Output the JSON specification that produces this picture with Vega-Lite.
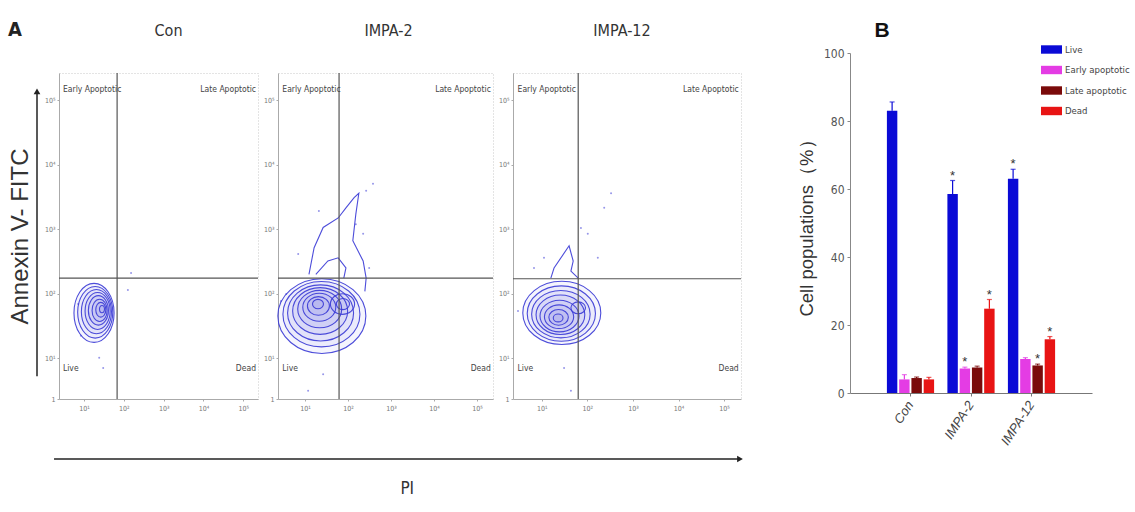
{
  "$schema": "https://vega.github.io/schema/vega-lite/v6.json",
  "background": "white",
  "padding": {"left": 8, "top": 20, "right": 5, "bottom": 5},
  "config": {
    "font": "Liberation Sans Narrow, DejaVu Sans Condensed, sans-serif",
    "view": {"stroke": null},
    "axis": {"grid": false},
    "title": {"font": "Liberation Sans Narrow, DejaVu Sans Condensed, sans-serif", "fontWeight": "normal", "fontSize": 16, "color": "#333"}
  },
  "datasets": {
    "arrows": [
      {"axis": "annexin", "pos": 1, "start": 0.36, "end": 4.86},
      {"axis": "PI", "pos": 0.9, "start": 0.027, "end": 1.0, "label": "PI", "label_x": 0.528, "label_y": 0.15}
    ],
    "gates": [
      {"panel": "Con", "pi_gate": 1.46, "annexin_gate": 1.91},
      {"panel": "IMPA-2", "pi_gate": 1.42, "annexin_gate": 1.91},
      {"panel": "IMPA-12", "pi_gate": 1.43, "annexin_gate": 1.9}
    ],
    "quadrants": [
      {"label": "Early Apoptotic", "pi": 0.1, "annexin": 4.9, "side": "left"},
      {"label": "Late Apoptotic", "pi": 4.95, "annexin": 4.9, "side": "right"},
      {"label": "Live", "pi": 0.1, "annexin": 0.49, "side": "left"},
      {"label": "Dead", "pi": 4.95, "annexin": 0.49, "side": "right"}
    ],
    "rings": [
      {"panel": "Con", "level": 8, "pi": 0.88, "annexin": 1.36},
      {"panel": "Con", "level": 7, "pi": 0.91, "annexin": 1.37},
      {"panel": "Con", "level": 6, "pi": 0.94, "annexin": 1.38},
      {"panel": "Con", "level": 5, "pi": 0.97, "annexin": 1.39},
      {"panel": "Con", "level": 4, "pi": 0.99, "annexin": 1.4},
      {"panel": "Con", "level": 3, "pi": 1.02, "annexin": 1.4},
      {"panel": "Con", "level": 2, "pi": 1.05, "annexin": 1.41},
      {"panel": "Con", "level": 1, "pi": 1.08, "annexin": 1.42},
      {"panel": "IMPA-2", "level": 8, "pi": 1.02, "annexin": 1.31},
      {"panel": "IMPA-2", "level": 7, "pi": 1.01, "annexin": 1.34},
      {"panel": "IMPA-2", "level": 6, "pi": 0.99, "annexin": 1.36},
      {"panel": "IMPA-2", "level": 5, "pi": 0.98, "annexin": 1.39},
      {"panel": "IMPA-2", "level": 4, "pi": 0.97, "annexin": 1.42},
      {"panel": "IMPA-2", "level": 3, "pi": 0.96, "annexin": 1.45},
      {"panel": "IMPA-2", "level": 2, "pi": 0.94, "annexin": 1.47},
      {"panel": "IMPA-2", "level": 1, "pi": 0.93, "annexin": 1.5},
      {"panel": "IMPA-2", "level": 2.2, "pi": 1.5, "annexin": 1.5},
      {"panel": "IMPA-2", "level": 1.2, "pi": 1.51, "annexin": 1.5},
      {"panel": "IMPA-12", "level": 8, "pi": 1.07, "annexin": 1.36},
      {"panel": "IMPA-12", "level": 7, "pi": 1.06, "annexin": 1.35},
      {"panel": "IMPA-12", "level": 6, "pi": 1.05, "annexin": 1.34},
      {"panel": "IMPA-12", "level": 5, "pi": 1.04, "annexin": 1.33},
      {"panel": "IMPA-12", "level": 4, "pi": 1.02, "annexin": 1.31},
      {"panel": "IMPA-12", "level": 3, "pi": 1.01, "annexin": 1.3},
      {"panel": "IMPA-12", "level": 2, "pi": 1.0, "annexin": 1.29},
      {"panel": "IMPA-12", "level": 1, "pi": 0.99, "annexin": 1.28},
      {"panel": "IMPA-12", "level": 1.5, "pi": 1.43, "annexin": 1.44}
    ],
    "tails": [
      {"panel": "IMPA-2", "contour": "outer", "order": 1, "pi": 0.72, "annexin": 1.97},
      {"panel": "IMPA-2", "contour": "outer", "order": 2, "pi": 0.84, "annexin": 2.39},
      {"panel": "IMPA-2", "contour": "outer", "order": 3, "pi": 1.05, "annexin": 2.71},
      {"panel": "IMPA-2", "contour": "outer", "order": 4, "pi": 1.4, "annexin": 2.86},
      {"panel": "IMPA-2", "contour": "outer", "order": 5, "pi": 1.58, "annexin": 3.02},
      {"panel": "IMPA-2", "contour": "outer", "order": 6, "pi": 1.77, "annexin": 3.18},
      {"panel": "IMPA-2", "contour": "outer", "order": 7, "pi": 1.88, "annexin": 3.25},
      {"panel": "IMPA-2", "contour": "outer", "order": 8, "pi": 1.81, "annexin": 2.92},
      {"panel": "IMPA-2", "contour": "outer", "order": 9, "pi": 1.74, "annexin": 2.5},
      {"panel": "IMPA-2", "contour": "outer", "order": 10, "pi": 1.98, "annexin": 2.18},
      {"panel": "IMPA-2", "contour": "outer", "order": 11, "pi": 2.05, "annexin": 1.91},
      {"panel": "IMPA-2", "contour": "outer", "order": 12, "pi": 2.02, "annexin": 1.7},
      {"panel": "IMPA-2", "contour": "inner", "order": 1, "pi": 0.88, "annexin": 1.97},
      {"panel": "IMPA-2", "contour": "inner", "order": 2, "pi": 1.16, "annexin": 2.18},
      {"panel": "IMPA-2", "contour": "inner", "order": 3, "pi": 1.4, "annexin": 2.23},
      {"panel": "IMPA-2", "contour": "inner", "order": 4, "pi": 1.58, "annexin": 2.07},
      {"panel": "IMPA-2", "contour": "inner", "order": 5, "pi": 1.53, "annexin": 1.91},
      {"panel": "IMPA-12", "contour": "outer", "order": 1, "pi": 0.83, "annexin": 1.91},
      {"panel": "IMPA-12", "contour": "outer", "order": 2, "pi": 0.9, "annexin": 2.07},
      {"panel": "IMPA-12", "contour": "outer", "order": 3, "pi": 1.23, "annexin": 2.42},
      {"panel": "IMPA-12", "contour": "outer", "order": 4, "pi": 1.32, "annexin": 2.18},
      {"panel": "IMPA-12", "contour": "outer", "order": 5, "pi": 1.27, "annexin": 2.02},
      {"panel": "IMPA-12", "contour": "outer", "order": 6, "pi": 1.43, "annexin": 1.91}
    ],
    "events": [
      {"panel": "Con", "pi": 0.55, "annexin": 1.0},
      {"panel": "Con", "pi": 1.01, "annexin": 0.65},
      {"panel": "Con", "pi": 1.11, "annexin": 0.49},
      {"panel": "Con", "pi": 1.73, "annexin": 1.72},
      {"panel": "Con", "pi": 1.81, "annexin": 1.99},
      {"panel": "Con", "pi": 0.48, "annexin": 1.5},
      {"panel": "IMPA-2", "pi": 2.21, "annexin": 3.4},
      {"panel": "IMPA-2", "pi": 2.05, "annexin": 3.29},
      {"panel": "IMPA-2", "pi": 0.95, "annexin": 2.97},
      {"panel": "IMPA-2", "pi": 0.47, "annexin": 2.29},
      {"panel": "IMPA-2", "pi": 1.81, "annexin": 2.76},
      {"panel": "IMPA-2", "pi": 1.98, "annexin": 2.61},
      {"panel": "IMPA-2", "pi": 0.19, "annexin": 1.66},
      {"panel": "IMPA-2", "pi": 0.07, "annexin": 1.55},
      {"panel": "IMPA-2", "pi": 1.05, "annexin": 0.39},
      {"panel": "IMPA-2", "pi": 0.7, "annexin": 0.13},
      {"panel": "IMPA-2", "pi": 2.12, "annexin": 2.07},
      {"panel": "IMPA-12", "pi": 2.15, "annexin": 3.25},
      {"panel": "IMPA-12", "pi": 2.0, "annexin": 3.02},
      {"panel": "IMPA-12", "pi": 1.49, "annexin": 2.7},
      {"panel": "IMPA-12", "pi": 1.64, "annexin": 2.61},
      {"panel": "IMPA-12", "pi": 1.86, "annexin": 2.23},
      {"panel": "IMPA-12", "pi": 0.68, "annexin": 2.23},
      {"panel": "IMPA-12", "pi": 0.46, "annexin": 2.07},
      {"panel": "IMPA-12", "pi": 1.12, "annexin": 0.49},
      {"panel": "IMPA-12", "pi": 1.27, "annexin": 0.13},
      {"panel": "IMPA-12", "pi": 0.11, "annexin": 1.39}
    ],
    "cells": [
      {"treatment": "Con", "population": "Live", "mean": 83.0, "upper": 85.6, "sig": false},
      {"treatment": "Con", "population": "Early apoptotic", "mean": 4.0, "upper": 5.4, "sig": false},
      {"treatment": "Con", "population": "Late apoptotic", "mean": 4.4, "upper": 4.7, "sig": false},
      {"treatment": "Con", "population": "Dead", "mean": 4.0, "upper": 4.6, "sig": false},
      {"treatment": "IMPA-2", "population": "Live", "mean": 58.5, "upper": 62.5, "sig": true},
      {"treatment": "IMPA-2", "population": "Early apoptotic", "mean": 7.2, "upper": 7.6, "sig": true},
      {"treatment": "IMPA-2", "population": "Late apoptotic", "mean": 7.5, "upper": 7.9, "sig": false},
      {"treatment": "IMPA-2", "population": "Dead", "mean": 24.8, "upper": 27.5, "sig": true},
      {"treatment": "IMPA-12", "population": "Live", "mean": 63.0, "upper": 65.8, "sig": true},
      {"treatment": "IMPA-12", "population": "Early apoptotic", "mean": 10.0, "upper": 10.4, "sig": false},
      {"treatment": "IMPA-12", "population": "Late apoptotic", "mean": 8.1, "upper": 8.5, "sig": true},
      {"treatment": "IMPA-12", "population": "Dead", "mean": 15.8, "upper": 16.6, "sig": true}
    ]
  },
  "hconcat": [
    {
      "vconcat": [
        {
          "hconcat": [
            {
              "width": 2,
              "height": 326,
              "title": {"text": "A", "anchor": "start", "dx": 0, "fontSize": 20, "fontWeight": "bold", "offset": 33, "color": "#222"},
              "data": {"name": "arrows"},
              "transform": [{"filter": "datum.axis === 'annexin'"}],
              "layer": [
                {
                  "mark": {"type": "rule", "color": "#222", "strokeWidth": 1.5},
                  "encoding": {
                    "x": {"field": "pos", "type": "quantitative", "scale": {"domain": [0, 1]}, "axis": null},
                    "y": {"field": "start", "type": "quantitative", "scale": {"domain": [0, 5.15], "nice": false, "zero": false},
                      "axis": {"title": "Annexin V- FITC", "labels": false, "ticks": false, "domain": false, "titleFont": "Liberation Sans", "titleFontSize": 24, "titleFontWeight": "normal", "titleColor": "#333", "titlePadding": 3}},
                    "y2": {"field": "end"}
                  }
                },
                {
                  "mark": {"type": "point", "shape": "triangle-up", "filled": true, "color": "#222", "size": 45, "opacity": 1},
                  "encoding": {
                    "x": {"field": "pos", "type": "quantitative"},
                    "y": {"field": "end", "type": "quantitative"}
                  }
                }
              ]
            },
            {
              "width": 199,
              "height": 326,
              "title": {"text": "Con", "offset": 33, "dx": 10},
              "view": {"stroke": "#c8c8c8", "strokeDash": [1, 2]},
              "layer": [
                {
                  "data": {"name": "events"},
                  "transform": [{"filter": "datum.panel === 'Con'"}],
                  "mark": {"type": "point", "filled": true, "size": 4, "color": "#6a6ae0", "opacity": 0.7},
                  "encoding": {
                    "x": {"field": "pi", "type": "quantitative", "scale": {"domain": [0, 5], "nice": false, "zero": false},
                      "axis": {"title": null, "values": [0.63, 1.63, 2.63, 3.63, 4.63], "labelExpr": "datum.value < 1.3 ? '10¹' : datum.value < 2.3 ? '10²' : datum.value < 3.3 ? '10³' : datum.value < 4.3 ? '10⁴' : '10⁵'", "labelFontSize": 7, "labelColor": "#777", "domainColor": "#aaa", "tickColor": "#aaa", "tickSize": 2, "labelPadding": 3}},
                    "y": {"field": "annexin", "type": "quantitative", "scale": {"domain": [0, 5.15], "nice": false, "zero": false},
                      "axis": {"title": null, "values": [0, 0.64, 1.66, 2.68, 3.7, 4.72], "labelExpr": "datum.value < 0.3 ? '1' : datum.value < 1.3 ? '10¹' : datum.value < 2.3 ? '10²' : datum.value < 3.3 ? '10³' : datum.value < 4.3 ? '10⁴' : '10⁵'", "labelFontSize": 7, "labelColor": "#777", "domainColor": "#aaa", "tickColor": "#aaa", "tickSize": 2, "labelPadding": 2}}
                  }
                },
                {
                  "data": {"name": "rings"},
                  "transform": [{"filter": "datum.panel === 'Con'"}],
                  "mark": {"type": "point", "shape": "M-0.68,0A0.68,1,0,1,1,0.68,0A0.68,1,0,1,1,-0.68,0Z", "filled": false, "color": "#3a3ad6", "strokeWidth": 1.1, "opacity": 0.9, "fill": "#3a3ad6", "fillOpacity": 0.05},
                  "encoding": {
                    "x": {"field": "pi", "type": "quantitative"},
                    "y": {"field": "annexin", "type": "quantitative"},
                    "size": {"field": "level", "type": "quantitative", "scale": {"type": "pow", "exponent": 2, "domain": [0, 8], "range": [0, 3481]}, "legend": null}
                  }
                },
                {
                  "data": {"name": "gates"},
                  "transform": [{"filter": "datum.panel === 'Con'"}],
                  "mark": {"type": "rule", "color": "#555", "strokeWidth": 1.2},
                  "encoding": {"x": {"field": "pi_gate", "type": "quantitative"}}
                },
                {
                  "data": {"name": "gates"},
                  "transform": [{"filter": "datum.panel === 'Con'"}],
                  "mark": {"type": "rule", "color": "#555", "strokeWidth": 1.2},
                  "encoding": {"y": {"field": "annexin_gate", "type": "quantitative"}}
                },
                {
                  "data": {"name": "quadrants"},
                  "transform": [{"filter": "datum.side === 'left'"}],
                  "mark": {"type": "text", "align": "left", "baseline": "middle", "fontSize": 8.5, "color": "#444"},
                  "encoding": {"x": {"field": "pi", "type": "quantitative"}, "y": {"field": "annexin", "type": "quantitative"}, "text": {"field": "label"}}
                },
                {
                  "data": {"name": "quadrants"},
                  "transform": [{"filter": "datum.side === 'right'"}],
                  "mark": {"type": "text", "align": "right", "baseline": "middle", "fontSize": 8.5, "color": "#444"},
                  "encoding": {"x": {"field": "pi", "type": "quantitative"}, "y": {"field": "annexin", "type": "quantitative"}, "text": {"field": "label"}}
                }
              ]
            },
            {
              "width": 215,
              "height": 326,
              "title": {"text": "IMPA-2", "offset": 33, "dx": 3},
              "view": {"stroke": "#c8c8c8", "strokeDash": [1, 2]},
              "layer": [
                {
                  "data": {"name": "events"},
                  "transform": [{"filter": "datum.panel === 'IMPA-2'"}],
                  "mark": {"type": "point", "filled": true, "size": 4, "color": "#6a6ae0", "opacity": 0.7},
                  "encoding": {
                    "x": {"field": "pi", "type": "quantitative", "scale": {"domain": [0, 5], "nice": false, "zero": false},
                      "axis": {"title": null, "values": [0.63, 1.63, 2.63, 3.63, 4.63], "labelExpr": "datum.value < 1.3 ? '10¹' : datum.value < 2.3 ? '10²' : datum.value < 3.3 ? '10³' : datum.value < 4.3 ? '10⁴' : '10⁵'", "labelFontSize": 7, "labelColor": "#777", "domainColor": "#aaa", "tickColor": "#aaa", "tickSize": 2, "labelPadding": 3}},
                    "y": {"field": "annexin", "type": "quantitative", "scale": {"domain": [0, 5.15], "nice": false, "zero": false},
                      "axis": {"title": null, "values": [0, 0.64, 1.66, 2.68, 3.7, 4.72], "labelExpr": "datum.value < 0.3 ? '1' : datum.value < 1.3 ? '10¹' : datum.value < 2.3 ? '10²' : datum.value < 3.3 ? '10³' : datum.value < 4.3 ? '10⁴' : '10⁵'", "labelFontSize": 7, "labelColor": "#777", "domainColor": "#aaa", "tickColor": "#aaa", "tickSize": 2, "labelPadding": 2}}
                  }
                },
                {
                  "data": {"name": "rings"},
                  "transform": [{"filter": "datum.panel === 'IMPA-2'"}],
                  "mark": {"type": "point", "shape": "M-1,0A1,0.85,0,1,1,1,0A1,0.85,0,1,1,-1,0Z", "filled": false, "color": "#3a3ad6", "strokeWidth": 1.1, "opacity": 0.9, "fill": "#3a3ad6", "fillOpacity": 0.05},
                  "encoding": {
                    "x": {"field": "pi", "type": "quantitative"},
                    "y": {"field": "annexin", "type": "quantitative"},
                    "size": {"field": "level", "type": "quantitative", "scale": {"type": "pow", "exponent": 2, "domain": [0, 8], "range": [0, 7744]}, "legend": null}
                  }
                },
                {
                  "data": {"name": "tails"},
                  "transform": [{"filter": "datum.panel === 'IMPA-2'"}],
                  "mark": {"type": "line", "color": "#3a3ad6", "strokeWidth": 1.1, "opacity": 0.9},
                  "encoding": {
                    "x": {"field": "pi", "type": "quantitative"},
                    "y": {"field": "annexin", "type": "quantitative"},
                    "order": {"field": "order", "type": "quantitative"},
                    "detail": {"field": "contour", "type": "nominal"}
                  }
                },
                {
                  "data": {"name": "gates"},
                  "transform": [{"filter": "datum.panel === 'IMPA-2'"}],
                  "mark": {"type": "rule", "color": "#555", "strokeWidth": 1.2},
                  "encoding": {"x": {"field": "pi_gate", "type": "quantitative"}}
                },
                {
                  "data": {"name": "gates"},
                  "transform": [{"filter": "datum.panel === 'IMPA-2'"}],
                  "mark": {"type": "rule", "color": "#555", "strokeWidth": 1.2},
                  "encoding": {"y": {"field": "annexin_gate", "type": "quantitative"}}
                },
                {
                  "data": {"name": "quadrants"},
                  "transform": [{"filter": "datum.side === 'left'"}],
                  "mark": {"type": "text", "align": "left", "baseline": "middle", "fontSize": 8.5, "color": "#444"},
                  "encoding": {"x": {"field": "pi", "type": "quantitative"}, "y": {"field": "annexin", "type": "quantitative"}, "text": {"field": "label"}}
                },
                {
                  "data": {"name": "quadrants"},
                  "transform": [{"filter": "datum.side === 'right'"}],
                  "mark": {"type": "text", "align": "right", "baseline": "middle", "fontSize": 8.5, "color": "#444"},
                  "encoding": {"x": {"field": "pi", "type": "quantitative"}, "y": {"field": "annexin", "type": "quantitative"}, "text": {"field": "label"}}
                }
              ]
            },
            {
              "width": 228,
              "height": 326,
              "title": {"text": "IMPA-12", "offset": 33, "dx": -5},
              "view": {"stroke": "#c8c8c8", "strokeDash": [1, 2]},
              "layer": [
                {
                  "data": {"name": "events"},
                  "transform": [{"filter": "datum.panel === 'IMPA-12'"}],
                  "mark": {"type": "point", "filled": true, "size": 4, "color": "#6a6ae0", "opacity": 0.7},
                  "encoding": {
                    "x": {"field": "pi", "type": "quantitative", "scale": {"domain": [0, 5], "nice": false, "zero": false},
                      "axis": {"title": null, "values": [0.63, 1.63, 2.63, 3.63, 4.63], "labelExpr": "datum.value < 1.3 ? '10¹' : datum.value < 2.3 ? '10²' : datum.value < 3.3 ? '10³' : datum.value < 4.3 ? '10⁴' : '10⁵'", "labelFontSize": 7, "labelColor": "#777", "domainColor": "#aaa", "tickColor": "#aaa", "tickSize": 2, "labelPadding": 3}},
                    "y": {"field": "annexin", "type": "quantitative", "scale": {"domain": [0, 5.15], "nice": false, "zero": false},
                      "axis": {"title": null, "values": [0, 0.64, 1.66, 2.68, 3.7, 4.72], "labelExpr": "datum.value < 0.3 ? '1' : datum.value < 1.3 ? '10¹' : datum.value < 2.3 ? '10²' : datum.value < 3.3 ? '10³' : datum.value < 4.3 ? '10⁴' : '10⁵'", "labelFontSize": 7, "labelColor": "#777", "domainColor": "#aaa", "tickColor": "#aaa", "tickSize": 2, "labelPadding": 2}}
                  }
                },
                {
                  "data": {"name": "rings"},
                  "transform": [{"filter": "datum.panel === 'IMPA-12'"}],
                  "mark": {"type": "point", "shape": "M-1,0A1,0.81,0,1,1,1,0A1,0.81,0,1,1,-1,0Z", "filled": false, "color": "#3a3ad6", "strokeWidth": 1.1, "opacity": 0.9, "fill": "#3a3ad6", "fillOpacity": 0.05},
                  "encoding": {
                    "x": {"field": "pi", "type": "quantitative"},
                    "y": {"field": "annexin", "type": "quantitative"},
                    "size": {"field": "level", "type": "quantitative", "scale": {"type": "pow", "exponent": 2, "domain": [0, 8], "range": [0, 6084]}, "legend": null}
                  }
                },
                {
                  "data": {"name": "tails"},
                  "transform": [{"filter": "datum.panel === 'IMPA-12'"}],
                  "mark": {"type": "line", "color": "#3a3ad6", "strokeWidth": 1.1, "opacity": 0.9},
                  "encoding": {
                    "x": {"field": "pi", "type": "quantitative"},
                    "y": {"field": "annexin", "type": "quantitative"},
                    "order": {"field": "order", "type": "quantitative"},
                    "detail": {"field": "contour", "type": "nominal"}
                  }
                },
                {
                  "data": {"name": "gates"},
                  "transform": [{"filter": "datum.panel === 'IMPA-12'"}],
                  "mark": {"type": "rule", "color": "#555", "strokeWidth": 1.2},
                  "encoding": {"x": {"field": "pi_gate", "type": "quantitative"}}
                },
                {
                  "data": {"name": "gates"},
                  "transform": [{"filter": "datum.panel === 'IMPA-12'"}],
                  "mark": {"type": "rule", "color": "#555", "strokeWidth": 1.2},
                  "encoding": {"y": {"field": "annexin_gate", "type": "quantitative"}}
                },
                {
                  "data": {"name": "quadrants"},
                  "transform": [{"filter": "datum.side === 'left'"}],
                  "mark": {"type": "text", "align": "left", "baseline": "middle", "fontSize": 8.5, "color": "#444"},
                  "encoding": {"x": {"field": "pi", "type": "quantitative"}, "y": {"field": "annexin", "type": "quantitative"}, "text": {"field": "label"}}
                },
                {
                  "data": {"name": "quadrants"},
                  "transform": [{"filter": "datum.side === 'right'"}],
                  "mark": {"type": "text", "align": "right", "baseline": "middle", "fontSize": 8.5, "color": "#444"},
                  "encoding": {"x": {"field": "pi", "type": "quantitative"}, "y": {"field": "annexin", "type": "quantitative"}, "text": {"field": "label"}}
                }
              ]
            }
          ],
          "spacing": 2,
          "resolve": {"scale": {"size": "independent"}, "legend": {"size": "independent"}}
        },
        {
          "width": 705,
          "height": 40,
          "data": {"name": "arrows"},
          "transform": [{"filter": "datum.axis === 'PI'"}],
          "layer": [
            {
              "mark": {"type": "rule", "color": "#222", "strokeWidth": 1.5},
              "encoding": {
                "x": {"field": "start", "type": "quantitative", "scale": {"domain": [0, 1]}, "axis": null},
                "x2": {"field": "end"},
                "y": {"field": "pos", "type": "quantitative", "scale": {"domain": [0, 1]}, "axis": null}
              }
            },
            {
              "mark": {"type": "point", "shape": "triangle-right", "filled": true, "color": "#222", "size": 45, "opacity": 1},
              "encoding": {
                "x": {"field": "end", "type": "quantitative"},
                "y": {"field": "pos", "type": "quantitative"}
              }
            },
            {
              "mark": {"type": "text", "fontSize": 17, "color": "#333", "baseline": "middle"},
              "encoding": {
                "x": {"field": "label_x", "type": "quantitative"},
                "y": {"field": "label_y", "type": "quantitative"},
                "text": {"field": "label"}
              }
            }
          ]
        }
      ],
      "spacing": 43
    },
    {
      "width": 242,
      "height": 320,
      "title": {"text": "B", "anchor": "start", "dx": 77, "fontSize": 21, "fontWeight": "bold", "font": "Liberation Sans", "color": "#111", "offset": -2},
      "data": {"name": "cells"},
      "encoding": {
        "x": {"field": "treatment", "type": "nominal", "sort": ["Con", "IMPA-2", "IMPA-12"], "scale": {"paddingInner": 0.22, "paddingOuter": 0.61},
          "axis": {"title": null, "labelAngle": -57, "labelAlign": "right", "labelBaseline": "middle", "labelFont": "Liberation Sans", "labelFontStyle": "italic", "labelFontSize": 13, "labelColor": "#444", "domainColor": "#777", "tickColor": "#777", "tickSize": 3, "labelPadding": 6}},
        "xOffset": {"field": "population", "type": "nominal", "sort": ["Live", "Early apoptotic", "Late apoptotic", "Dead"], "scale": {"paddingInner": 0.15}},
        "color": {"field": "population", "type": "nominal", "sort": ["Live", "Early apoptotic", "Late apoptotic", "Dead"],
          "scale": {"domain": ["Live", "Early apoptotic", "Late apoptotic", "Dead"], "range": ["#0a0ad6", "#e43ce4", "#7a0a0a", "#e81414"]},
          "legend": {"title": null, "orient": "none", "legendX": 191, "legendY": -34, "symbolType": "M-1,-0.4H1V0.4H-1Z", "symbolSize": 441, "symbolStrokeWidth": 0, "symbolOpacity": 1, "labelFontSize": 9.5, "labelColor": "#444", "labelOffset": 3, "rowPadding": 5.5}}
      },
      "layer": [
        {
          "mark": {"type": "bar"},
          "encoding": {
            "y": {"field": "mean", "type": "quantitative", "scale": {"domain": [0, 100], "nice": false, "range": [320, -20]},
              "axis": {"title": "Cell populations（%）", "values": [0, 20, 40, 60, 80, 100], "labelFontSize": 12, "labelColor": "#555", "domainColor": "#888", "tickColor": "#888", "tickSize": 3, "labelPadding": 3, "titleFont": "Liberation Sans", "titleFontSize": 18.5, "titleFontWeight": "normal", "titleColor": "#333", "titlePadding": 7}}
          }
        },
        {
          "mark": {"type": "rule", "strokeWidth": 1.2},
          "encoding": {"y": {"field": "mean", "type": "quantitative"}, "y2": {"field": "upper"}}
        },
        {
          "mark": {"type": "tick", "thickness": 1.2, "size": 5},
          "encoding": {"y": {"field": "upper", "type": "quantitative"}}
        },
        {
          "transform": [{"filter": "datum.sig"}],
          "mark": {"type": "text", "text": "*", "fontSize": 13, "dy": -1, "baseline": "alphabetic", "font": "Liberation Sans"},
          "encoding": {"y": {"field": "upper", "type": "quantitative"}, "color": {"value": "#333"}}
        }
      ]
    }
  ],
  "spacing": 54,
  "resolve": {"scale": {"color": "independent"}, "legend": {"color": "independent"}}
}
